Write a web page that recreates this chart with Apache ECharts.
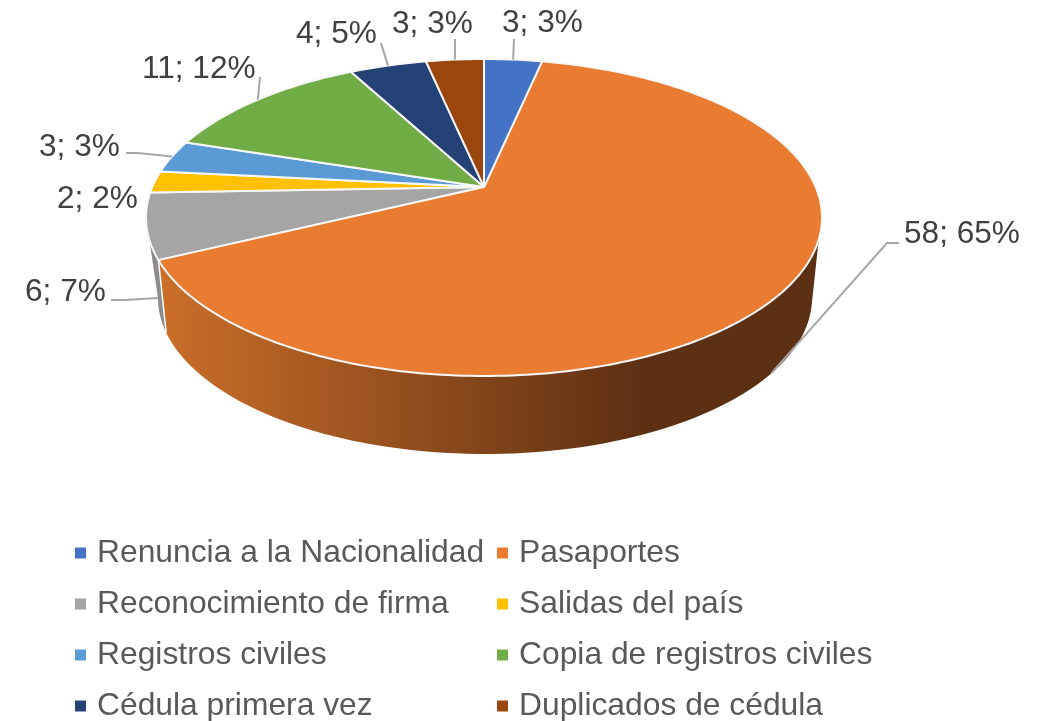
<!DOCTYPE html>
<html>
<head>
<meta charset="utf-8">
<style>
  html, body { margin: 0; padding: 0; background: #fff; }
  #main { width: 1048px; height: 721px; }
</style>
</head>
<body>
<div id="main"></div>
<script src="https://cdn.jsdelivr.net/npm/echarts@6/dist/echarts.min.js"></script>
<script>
/* ------------------- chart data ------------------- */
const categories = ['Renuncia a la Nacionalidad', 'Pasaportes', 'Reconocimiento de firma', 'Salidas del país',
  'Registros civiles', 'Copia de registros civiles', 'Cédula primera vez', 'Duplicados de cédula'];
const values = [3, 58, 6, 2, 3, 11, 4, 3];
const percents = [3, 65, 7, 2, 3, 12, 5, 3];

/* ------------------- look and layout ------------------- */
const colors = ['#4472C4', '#EA7C31', '#A5A5A5', '#FFC000', '#5B9BD5', '#70AD47', '#244275', '#9A460E'];
const fontName = '"Liberation Sans", Arial, sans-serif';
// label box (left, middle) and optional elbow of the leader line, one row per slice
const labelLeft = [502, 904, 25, 57, 39, 142, 296, 392];
const labelMid = [23, 234, 292, 199, 147, 69, 34, 24];
const leaderStart = [[514, 39], [899, 243], [111, 300], null, [126, 153], [260, 77], [381, 43], [455, 39]];
const leaderElbow = [null, [887, 243], [125, 300], null, [138, 153], null, null, null];
const leaderOnSide = [false, true, true, false, false, false, false, false];
const leaderShift = [0, 4, 0, 0, 0, 0, 0, 0];

// top face ellipse, a = perspective shift of the pie centre, lower rim ellipse
const top_ = { cx: 484, cy: 217.5, rx: 338, ry: 158.5, a: 0.192 };
const low = { cx: 485, cy: 298, rx: 327, ry: 156 };
// top-rim angle -> lower-rim angle, picks up the lean of the silhouette
const sideFrom = [8, 164, 172];
const sideTo = [3, 166.5, 180];

const total = values.reduce((s, v) => s + v, 0);
const toRad = Math.PI / 180;

// theta: degrees clockwise from 12 o'clock on the real (round) pie
function rimPoint(theta) {
  const u = Math.sin(theta * toRad), v = Math.cos(theta * toRad);
  const d = 1 + top_.a * v;
  const uu = u * Math.sqrt(1 - top_.a * top_.a) / d, vv = (v + top_.a) / d;
  return [top_.cx + top_.rx * uu, top_.cy - top_.ry * vv];
}
function centerPoint() {
  return [top_.cx, top_.cy - top_.ry * top_.a];
}
// screen angle on the ellipse, -90 at the top, going clockwise up to 270
function phiOf(theta) {
  const p = rimPoint(theta);
  let phi = Math.atan2((p[1] - top_.cy) / top_.ry, (p[0] - top_.cx) / top_.rx) / toRad;
  if (phi < -90) phi += 360;
  return phi;
}
function topAt(phi) {
  return [top_.cx + top_.rx * Math.cos(phi * toRad), top_.cy + top_.ry * Math.sin(phi * toRad)];
}
function lowAt(phi) {
  let q;
  if (phi <= sideFrom[0]) q = sideTo[0];
  else if (phi >= sideFrom[2]) q = sideTo[2];
  else if (phi <= sideFrom[1]) q = sideTo[0] + (phi - sideFrom[0]) * (sideTo[1] - sideTo[0]) / (sideFrom[1] - sideFrom[0]);
  else q = sideTo[1] + (phi - sideFrom[1]) * (sideTo[2] - sideTo[1]) / (sideFrom[2] - sideFrom[1]);
  return [low.cx + low.rx * Math.cos(q * toRad), low.cy + low.ry * Math.sin(q * toRad)];
}

const sideFill = [null, {
  type: 'linear', global: true, x: 160, y: 0, x2: 640, y2: 0,
  colorStops: [{ offset: 0, color: '#CB6E29' }, { offset: 1, color: '#5E3013' }]
}, '#8C8C8C', null, null, null, null, null];

function renderSlice(i) {
  let before = 0;
  for (let k = 0; k < i; k++) before += values[k];
  const start = before / total * 360;
  const end = (before + values[i]) / total * 360;
  const mid = (start + end) / 2;
  const children = [];

  // side wall, only the part that faces the viewer
  const a = Math.max(phiOf(start), sideFrom[0]);
  const b = Math.min(phiOf(end), sideFrom[2]);
  if (b > a && sideFill[i]) {
    const pts = [];
    for (let n = 0; n <= 80; n++) pts.push(topAt(a + (b - a) * n / 80));
    for (let n = 80; n >= 0; n--) pts.push(lowAt(a + (b - a) * n / 80));
    children.push({
      type: 'polygon', shape: { points: pts },
      style: { fill: sideFill[i] }
    });
    // white seam where the wall meets the neighbour
    if (i === 1) {
      children.push({
        type: 'polyline', shape: { points: [topAt(b), lowAt(b)] },
        style: { fill: null, stroke: '#fff', lineWidth: 1.5 }, z2: 2
      });
    }
  }

  // top face
  const face = [centerPoint()];
  const steps = Math.max(4, Math.ceil(end - start));
  for (let n = 0; n <= steps; n++) face.push(rimPoint(start + (end - start) * n / steps));
  children.push({
    type: 'polygon', shape: { points: face },
    style: { fill: colors[i], stroke: '#F7F7F7', lineWidth: 2, lineJoin: 'round' }, z2: 3
  });

  // leader line and label
  if (leaderStart[i]) {
    const anchor = leaderOnSide[i] ? lowAt(phiOf(mid) + leaderShift[i]) : rimPoint(mid);
    const line = [leaderStart[i]];
    if (leaderElbow[i]) line.push(leaderElbow[i]);
    line.push(anchor);
    children.push({
      type: 'polyline', shape: { points: line },
      style: { fill: null, stroke: '#A6A6A6', lineWidth: 2 }, z2: 4
    });
  }
  children.push({
    type: 'text', z2: 5,
    style: {
      x: labelLeft[i], y: labelMid[i], text: values[i] + '; ' + percents[i] + '%',
      fill: '#404040', fontSize: 31.6, fontFamily: fontName, align: 'left', verticalAlign: 'middle'
    }
  });
  return { type: 'group', children: children };
}

const chart = echarts.init(document.getElementById('main'), null, { renderer: 'canvas' });
const legendBase = {
  orient: 'vertical', icon: 'rect', itemWidth: 11, itemHeight: 11, itemGap: 19, top: 537, height: 300,
  padding: 0, selectedMode: false,
  textStyle: { color: '#595959', fontSize: 31.8, fontFamily: fontName, padding: [0, 0, 0, 6] }
};
chart.setOption({
  animation: false,
  backgroundColor: '#fff',
  legend: [
    Object.assign({}, legendBase, { left: 75, data: categories.filter((c, i) => i % 2 === 0) }),
    Object.assign({}, legendBase, { left: 497, data: categories.filter((c, i) => i % 2 === 1) })
  ],
  series: categories.map((name, i) => ({
    type: 'custom',
    name: name,
    coordinateSystem: 'none',
    z: i === 1 ? 3 : (i === 2 ? 2 : 4),
    silent: true,
    itemStyle: { color: colors[i] },
    data: [values[i]],
    renderItem: () => renderSlice(i)
  }))
});
</script>
</body>
</html>
